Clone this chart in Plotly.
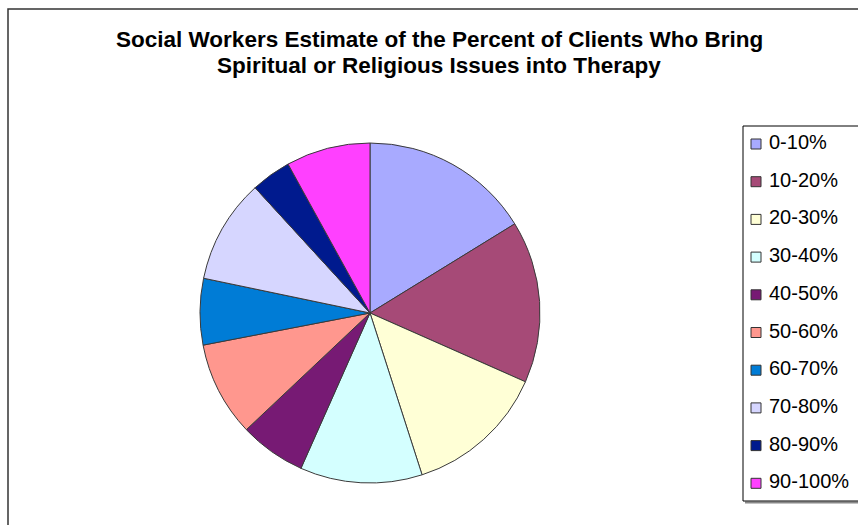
import plotly.graph_objects as go

# ---- data ----
labels = ["0-10%", "10-20%", "20-30%", "30-40%", "40-50%",
          "50-60%", "60-70%", "70-80%", "80-90%", "90-100%"]
shares = [16.2, 15.4, 13.4, 11.6, 6.3, 9.0, 6.3, 9.9, 3.8, 8.0]
colors = ["#A8AAFF", "#A64A77", "#FFFFD6", "#D4FFFF", "#771A74",
          "#FF978E", "#007CD6", "#D6D6FF", "#001A8E", "#FF40FF"]
title_lines = ["Social Workers Estimate of the Percent of Clients Who Bring",
               "Spiritual or Religious Issues into Therapy"]

W, H = 858, 525
FONT = "Liberation Sans, Arial, sans-serif"

fig = go.Figure()

# pie: centre (370,313) px, radius ~170 px
cx, cy, r = 370, 313, 170
fig.add_trace(go.Pie(
    labels=labels, values=shares, sort=False, direction="clockwise", rotation=0,
    marker=dict(colors=colors, line=dict(color="#3a3a3a", width=1)),
    textinfo="none", hoverinfo="label+percent", showlegend=False,
    domain=dict(x=[(cx - r) / W, (cx + r) / W], y=[(H - cy - r) / H, (H - cy + r) / H]),
))

# legend drawn as scatter on hidden axes (one row per category)
first_px, step_px = 144, 37.7
idx = list(range(len(labels)))
fig.add_trace(go.Scatter(
    x=[756] * len(labels), y=idx, mode="markers",
    marker=dict(symbol="square", size=10, color=colors, line=dict(color="#333333", width=1)),
    hoverinfo="skip", showlegend=False, cliponaxis=False,
))
fig.add_trace(go.Scatter(
    x=[769] * len(labels), y=idx, mode="text", text=labels,
    textposition="middle right", textfont=dict(family=FONT, size=20, color="#000000"),
    hoverinfo="skip", showlegend=False, cliponaxis=False,
))

y_top = -first_px / step_px
y_bot = (H - first_px) / step_px

title_y_px = [39, 66]
annotations = [
    dict(text="<b>" + line + "</b>", xref="paper", yref="paper",
         x=439.5 / W, y=1 - ypx / H, xanchor="center", yanchor="middle",
         showarrow=False, font=dict(family=FONT, size=22.5, color="#000000"))
    for line, ypx in zip(title_lines, title_y_px)
]

fig.update_layout(
    width=W, height=H, autosize=False,
    margin=dict(l=0, r=0, t=0, b=0),
    paper_bgcolor="white", plot_bgcolor="rgba(0,0,0,0)",
    xaxis=dict(visible=False, range=[0, W], domain=[0, 1], fixedrange=True),
    yaxis=dict(visible=False, range=[y_bot, y_top], domain=[0, 1], fixedrange=True),
    showlegend=False,
    font=dict(family=FONT),
    shapes=[
        # outer chart frame (extends beyond the picture on right/bottom)
        dict(type="rect", xref="paper", yref="paper",
             x0=8 / W, x1=1.2, y0=-0.2, y1=1 - 9 / H,
             line=dict(color="#333333", width=1.5), fillcolor="rgba(0,0,0,0)", layer="below"),
        # legend box shadow
        dict(type="line", xref="paper", yref="paper",
             x0=745 / W, x1=1.2, y0=1 - 502.5 / H, y1=1 - 502.5 / H,
             line=dict(color="#888888", width=2), layer="below"),
        # legend box
        dict(type="rect", xref="paper", yref="paper",
             x0=743 / W, x1=1.2, y0=1 - 501 / H, y1=1 - 126 / H,
             line=dict(color="#000000", width=1), fillcolor="white", layer="below"),
    ],
    annotations=annotations,
)

fig.write_html("out.html")
